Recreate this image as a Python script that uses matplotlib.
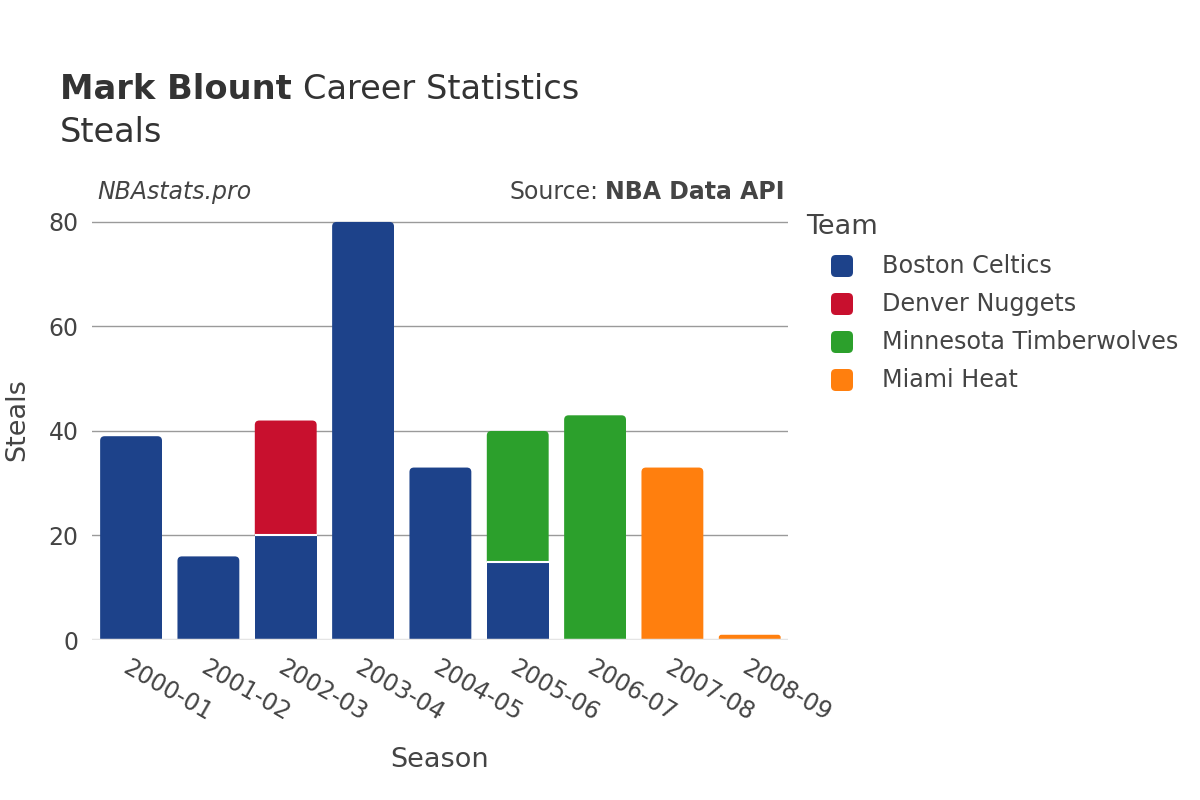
import matplotlib.pyplot as plt
from matplotlib.patches import PathPatch, FancyBboxPatch
from matplotlib.path import Path
import numpy as np

plt.rcParams["font.family"] = ["DejaVu Sans"]

seasons = ["2000-01", "2001-02", "2002-03", "2003-04", "2004-05",
           "2005-06", "2006-07", "2007-08", "2008-09"]
teams = ["Boston Celtics", "Denver Nuggets", "Minnesota Timberwolves", "Miami Heat"]
team_colors = ["#1d428a", "#c8102e", "#2ca02c", "#ff7f0e"]

boston = [39, 16, 20, 80, 33, 15, 0, 0, 0]
denver = [0, 0, 22, 0, 0, 0, 0, 0, 0]
minnesota = [0, 0, 0, 0, 0, 25, 43, 0, 0]
miami = [0, 0, 0, 0, 0, 0, 0, 33, 1]
series = [boston, denver, minnesota, miami]

text_col = "#444444"
YMAX = 84.2


def top_rounded_bar(ax, xc, y0, h, w, rx, ry, color):
    """bar with rounded top corners only"""
    if ry > h / 2:
        rx = rx * (h / 2) / ry
        ry = h / 2
    x0, x1 = xc - w / 2, xc + w / 2
    y1 = y0 + h
    verts = [(x0, y0), (x0, y1 - ry), (x0, y1), (x0 + rx, y1),
             (x1 - rx, y1), (x1, y1), (x1, y1 - ry), (x1, y0), (x0, y0)]
    codes = [Path.MOVETO, Path.LINETO, Path.CURVE3, Path.CURVE3,
             Path.LINETO, Path.CURVE3, Path.CURVE3, Path.LINETO, Path.CLOSEPOLY]
    ax.add_patch(PathPatch(Path(verts, codes), facecolor=color,
                           edgecolor="none", zorder=3))


fig = plt.figure(figsize=(12, 8), dpi=100)
ax = fig.add_axes([0.077, 0.2, 0.58, 0.55])

x = np.arange(len(seasons))
width = 0.8
totals = np.sum(series, axis=0)
bottom = np.zeros(len(seasons))

# corner radius ~4.5px converted to data units
px_x = 0.58 * 1200 / len(seasons)
px_y = 0.55 * 800 / YMAX
rx, ry = 4.5 / px_x, 4.5 / px_y

for vals, col in zip(series, team_colors):
    for i, v in enumerate(vals):
        if v <= 0:
            continue
        if np.isclose(bottom[i] + v, totals[i]):
            top_rounded_bar(ax, x[i], bottom[i], v, width, rx, ry, col)
        else:
            ax.bar(x[i], v, width, bottom=bottom[i], color=col,
                   edgecolor="none", zorder=3)
        if bottom[i] > 0:
            ax.hlines(bottom[i], x[i] - width / 2, x[i] + width / 2,
                      colors="white", linewidth=1.5, zorder=4)
    bottom += np.array(vals, dtype=float)

ax.set_xlim(-0.5, len(seasons) - 0.5)
ax.set_ylim(0, YMAX)
ax.set_yticks([0, 20, 40, 60, 80])
ax.grid(axis="y", color="#9a9a9a", linewidth=1, zorder=0)
ax.axhline(0, color="#e5e5e5", linewidth=2.5, zorder=4)
for s in ax.spines.values():
    s.set_visible(False)
ax.tick_params(axis="both", length=0, labelsize=17, colors=text_col)
ax.tick_params(axis="x", pad=11)
ax.tick_params(axis="y", pad=10)
ax.set_xticks(x)
ax.set_xticklabels(seasons, rotation=-30, ha="left", rotation_mode="anchor")

fig.text(440 / 1200, 1 - 760 / 800, "Season", fontsize=19.5, color=text_col,
         ha="center", va="center")
fig.text(17 / 1200, 1 - 420 / 800, "Steals", fontsize=19.5, color=text_col,
         ha="center", va="center", rotation=90)

# titles
t1 = fig.text(0.05, 0.888, "Mark Blount", fontsize=24.2, fontweight="bold",
              color="#333333", va="center")
fig.canvas.draw()
bb = t1.get_window_extent()
fig.text(bb.x1 / 1200 + 0.009, 0.888, "Career Statistics", fontsize=24.2,
         color="#333333", va="center")
fig.text(0.05, 0.834, "Steals", fontsize=24.2, color="#333333", va="center")

fig.text(0.081, 0.76, "NBAstats.pro", fontsize=17, style="italic",
         color=text_col, va="center")
src = fig.text(0.654, 0.76, "NBA Data API", fontsize=17, fontweight="bold",
               color=text_col, va="center", ha="right")
fig.canvas.draw()
sb = src.get_window_extent()
fig.text(sb.x0 / 1200 - 0.006, 0.76, "Source:", fontsize=17,
         color=text_col, va="center", ha="right")

# legend drawn by hand
fig.text(0.672, 0.716, "Team", fontsize=19.5, color=text_col, va="center")
for k, (name, col) in enumerate(zip(teams, team_colors)):
    yc = 1 - (266 + 38 * k) / 800
    fig.patches.append(FancyBboxPatch((831 / 1200, yc - 11 / 800), 22 / 1200, 22 / 800,
                                      boxstyle="round,pad=0,rounding_size=0.004",
                                      mutation_aspect=1.5,
                                      transform=fig.transFigure,
                                      facecolor=col, edgecolor="none"))
    fig.text(882 / 1200, yc, name, fontsize=17.2, color=text_col, va="center")

fig.savefig("out.png", dpi=100)
